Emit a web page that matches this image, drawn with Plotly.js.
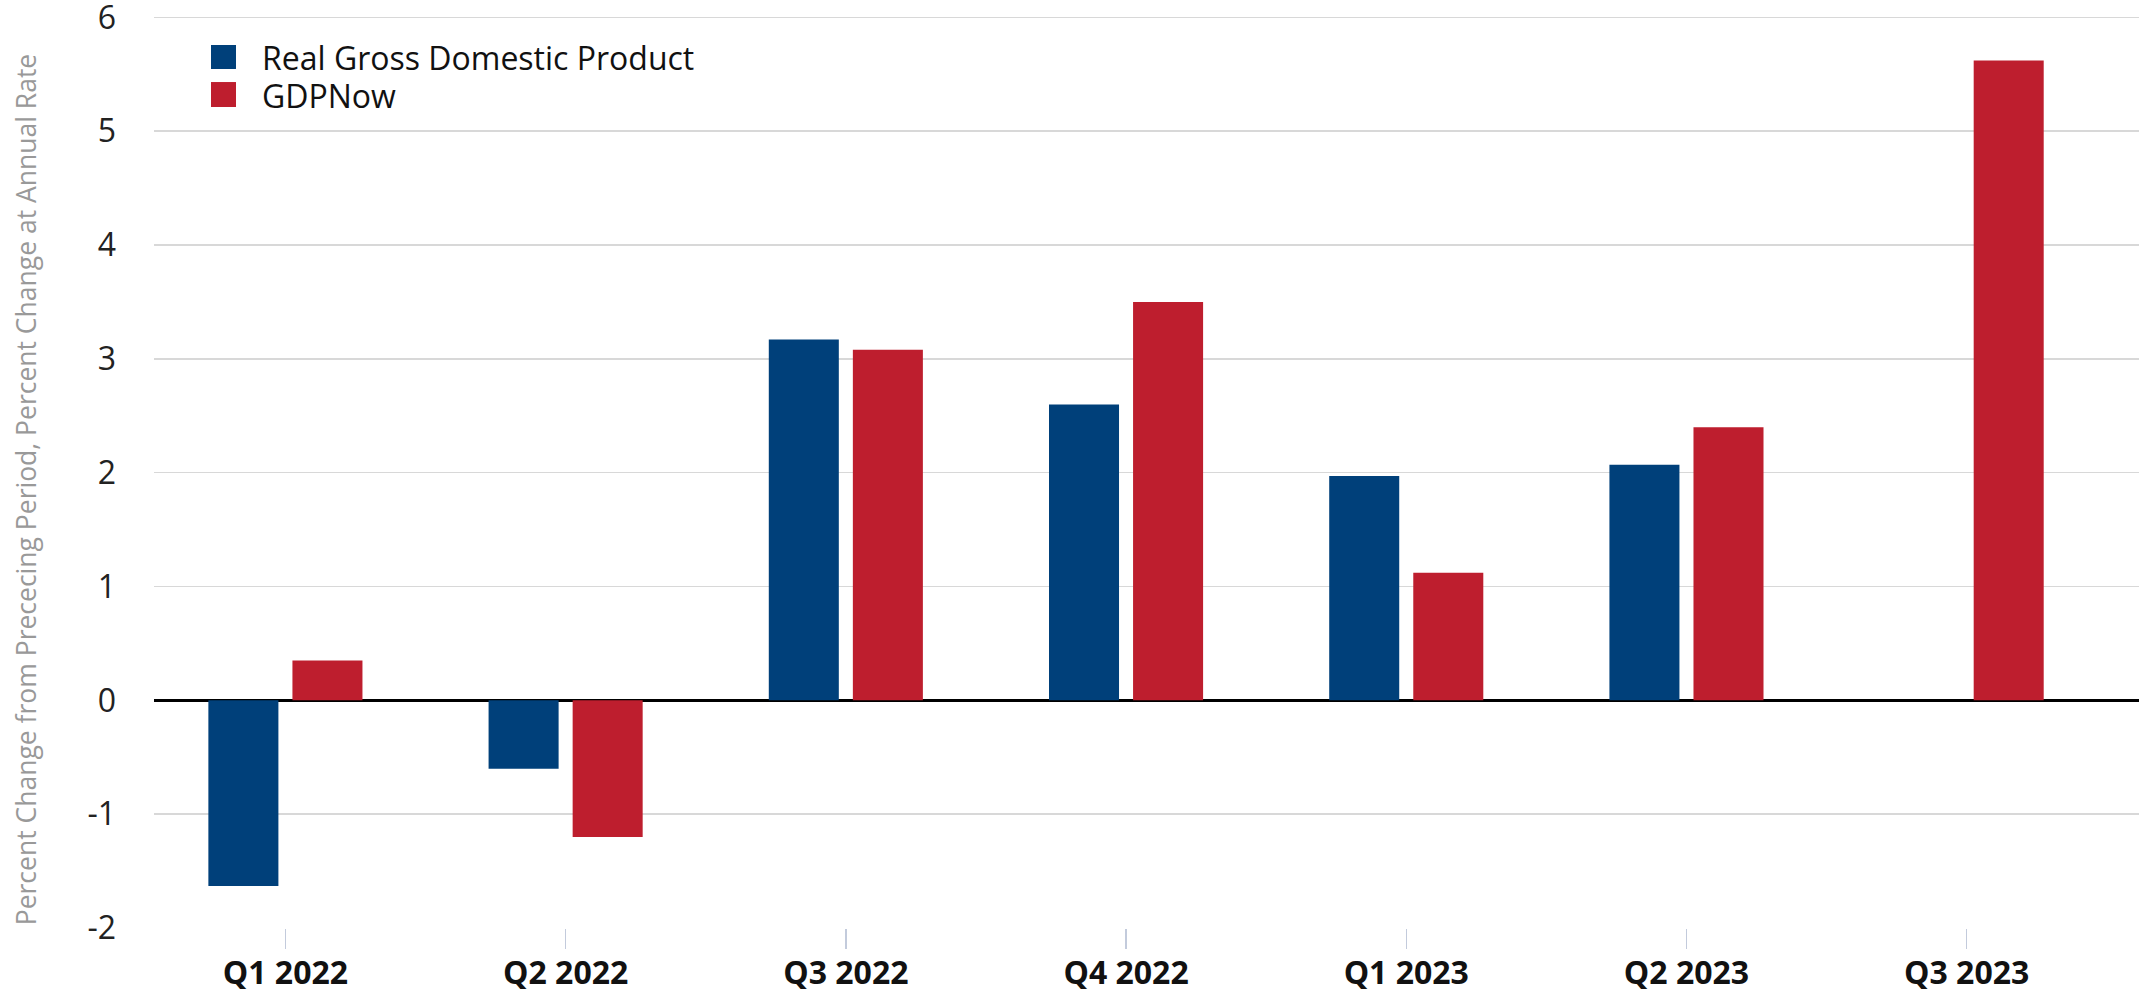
<!DOCTYPE html>
<html>
<head>
<meta charset="utf-8">
<script src="https://cdn.plot.ly/plotly-3.0.1.min.js"></script>
<style>html,body{margin:0;padding:0;background:#fff;}#chart{width:2139px;height:992px;}</style>
</head>
<body>
<div id="chart"></div>
<script>
const categories = ["Q1 2022", "Q2 2022", "Q3 2022", "Q4 2022", "Q1 2023", "Q2 2023", "Q3 2023"];
const realGDP = [-1.63, -0.6, 3.17, 2.6, 1.97, 2.07, null];
const gdpNow = [0.35, -1.2, 3.08, 3.5, 1.12, 2.4, 5.62];
const seriesNames = ["Real Gross Domestic Product", "GDPNow"];
const seriesColors = ["#00407a", "#be1e2e"];
const yTickVals = [-2, -1, 0, 1, 2, 3, 4, 5, 6];
const yTitle = "Percent Change from Prececing Period, Percent Change at Annual Rate";

const FONT = "Open Sans, Noto Sans, sans-serif";

const traces = [
  {type: "bar", name: seriesNames[0], x: categories, y: realGDP, marker: {color: seriesColors[0]}, showlegend: false},
  {type: "bar", name: seriesNames[1], x: categories, y: gdpNow, marker: {color: seriesColors[1]}, showlegend: false}
];

// Custom legend (larger squares), positioned in paper coordinates
const legendShapes = [];
const legendAnnotations = [];
const legY = [[0.9682, 0.9419, 0.9550], [0.9276, 0.9002, 0.9133]];
seriesNames.forEach((n, i) => {
  legendShapes.push({type: "rect", xref: "paper", yref: "paper", x0: 0.0287, x1: 0.0413, y0: legY[i][1], y1: legY[i][0], fillcolor: seriesColors[i], line: {width: 0}});
  legendAnnotations.push({xref: "paper", yref: "paper", x: 0.0537, y: legY[i][2], xanchor: "left", yanchor: "middle", height: 34, valign: "middle", text: n, showarrow: false, borderpad: 0, font: {family: FONT, size: 32, color: "#111"}});
});
// Y axis title placed as a rotated annotation (offset from axis centre as in reference)
legendAnnotations.push({xref: "paper", yref: "paper", x: -0.0645, y: 0.4810, xanchor: "center", yanchor: "middle", textangle: -90, text: yTitle, showarrow: false, font: {family: FONT, size: 26.5, color: "#999"}});

const layout = {
  width: 2139, height: 992,
  margin: {l: 154, r: 0, t: 16, b: 64, pad: 0},
  paper_bgcolor: "#fff", plot_bgcolor: "#fff",
  barmode: "group", bargap: 0.40, bargroupgap: 0.167,
  font: {family: FONT, color: "#222"},
  xaxis: {
    type: "category", range: [-0.469, 6.615],
    showgrid: false, zeroline: false, showline: false,
    ticks: "outside", ticklen: 20, tickwidth: 1.5, tickcolor: "#c3cbdc",
    tickfont: {family: FONT, size: 32, color: "#111", weight: "bold"},
    ticklabelstandoff: -3, ticklabeloverflow: "allow"
  },
  yaxis: {
    range: [-2, 6.012], tickvals: yTickVals, ticktext: yTickVals.map(String),
    showgrid: true, gridcolor: "#d8d8d8", gridwidth: 1.5,
    zeroline: true, zerolinecolor: "#000", zerolinewidth: 3,
    showline: false, ticks: "",
    tickfont: {family: FONT, size: 32, color: "#222"},
    ticklabelstandoff: 37, ticklabeloverflow: "allow"
  },
  shapes: legendShapes,
  annotations: legendAnnotations
};

Plotly.newPlot("chart", traces, layout, {displayModeBar: false, staticPlot: true});
</script>
</body>
</html>
